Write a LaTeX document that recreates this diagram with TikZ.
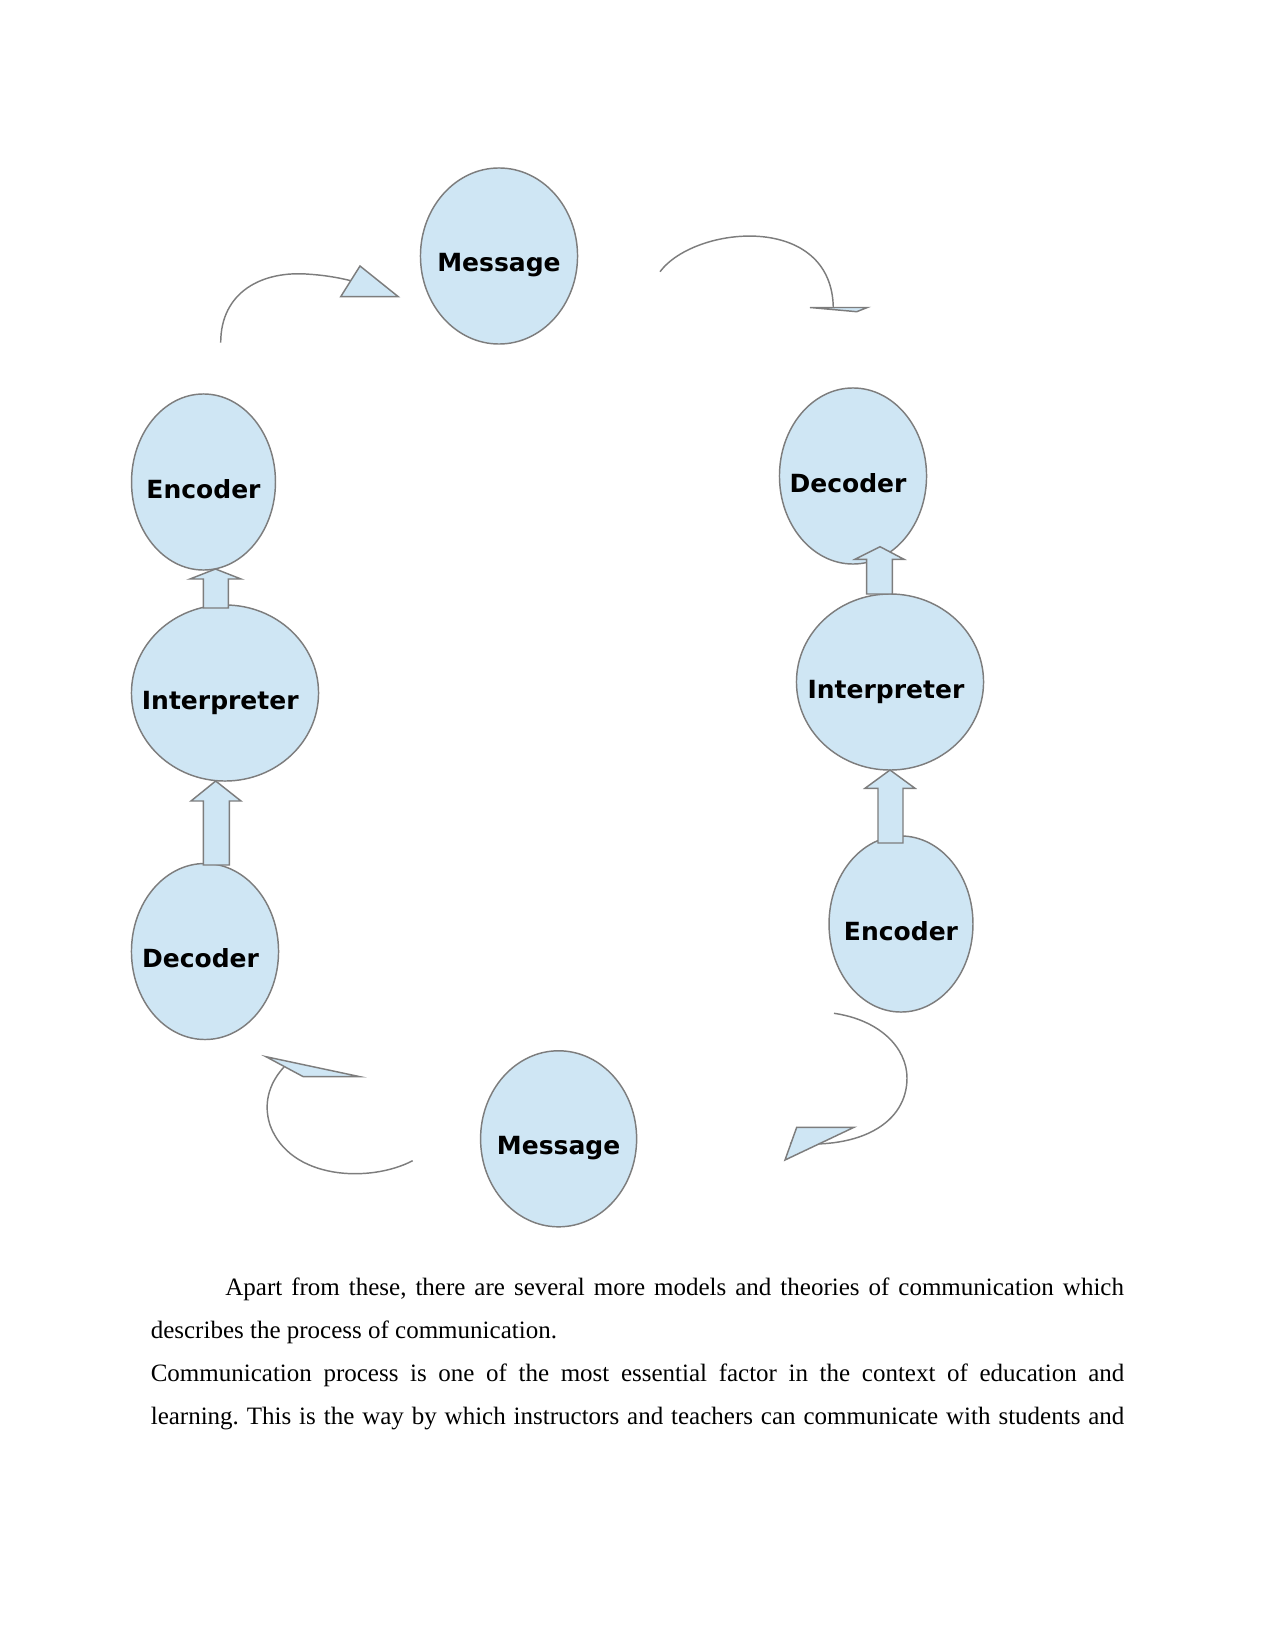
\documentclass[tikz,border=0pt]{standalone}
\usepackage{fontspec}
\usetikzlibrary{shapes.geometric}
\setmainfont{Liberation Serif}
\newfontfamily\labfont{DejaVu Sans}
\definecolor{ellfill}{RGB}{207,230,244}
\definecolor{ellline}{RGB}{125,125,125}
\frenchspacing
\begin{document}
\begin{tikzpicture}[x=0.48pt,y=-0.48pt,
  ell/.style={ellipse,draw=ellline,fill=ellfill,line width=0.7pt,inner sep=0pt,minimum height=84.5pt},
  lbl/.style={font=\labfont\bfseries\fontsize{12}{14}\selectfont,inner sep=0pt,anchor=base},
  blockarrow/.style={draw=ellline,fill=ellfill,line width=0.7pt,line join=miter},
  curve/.style={draw=ellline,line width=0.7pt},
  tri/.style={draw=ellline,fill=ellfill,line width=0.7pt,line join=miter},
  body/.style={anchor=base west,inner sep=0pt,font=\fontsize{12}{14}\selectfont}]
\useasboundingbox (0,0) rectangle (1275,1650);
% ellipses
\node[ell,minimum width=75.4pt] (msgT) at (499,256) {};
\node[ell,minimum width=69.1pt] (encL) at (203.5,482) {};
\node[ell,minimum width=89.8pt] (intL) at (225,693) {};
\node[ell,minimum width=70.6pt] (decL) at (205,951.5) {};
\node[ell,minimum width=70.6pt] (decR) at (853,476) {};
\node[ell,minimum width=89.8pt] (intR) at (890,682) {};
\node[ell,minimum width=69.1pt] (encR) at (901,924) {};
\node[ell,minimum width=74.9pt] (msgB) at (558.6,1138.8) {};
% labels
\node[lbl] (tmsgT) at ([shift={(0,16)}]msgT.center) {Message};
\node[lbl] (tencL) at ([shift={(0,16)}]encL.center) {Encoder};
\node[lbl] (tintL) at ([shift={(-4.7,16)}]intL.center) {Interpreter};
\node[lbl] (tdecL) at ([shift={(-4.5,16)}]decL.center) {Decoder};
\node[lbl] (tdecR) at ([shift={(-5,16)}]decR.center) {Decoder};
\node[lbl] (tintR) at ([shift={(-4,16)}]intR.center) {Interpreter};
\node[lbl] (tencR) at ([shift={(0,16)}]encR.center) {Encoder};
\node[lbl] (tmsgB) at ([shift={(0,16)}]msgB.center) {Message};
% block arrows
\path[blockarrow] (203.3,608) -- (203.3,579) -- (190,579) -- (215.5,569) -- (241,579) -- (228.3,579) -- (228.3,608) -- cycle;
\path[blockarrow] (203.3,865) -- (203.3,801) -- (191,801) -- (215.7,781) -- (241,801) -- (229.3,801) -- (229.3,865) -- cycle;
\path[blockarrow] (866.7,594) -- (866.7,559.3) -- (855,559.3) -- (880,546.7) -- (904,559.3) -- (892.3,559.3) -- (892.3,594) -- cycle;
\path[blockarrow] (878,843) -- (878,788.3) -- (865,788.3) -- (890,770) -- (915,788.3) -- (903,788.3) -- (903,843) -- cycle;
% curved arrows
\path[curve] (220.7,342.7) .. controls (220.7,292) and (262,270) .. (310,274.3) .. controls (328,275.5) and (342,278.5) .. (352,281);
\path[tri] (360,266) -- (398.3,296.7) -- (340.7,296.7) -- cycle;
\path[curve] (660,271.7) .. controls (695,225) and (833,212) .. (833.3,309);
\path[tri] (810,307.5) -- (867.3,307.5) -- (856.7,311.7) -- cycle;
\path[curve] (412.7,1160.7) .. controls (370,1183) and (290,1180) .. (270,1125) .. controls (262,1100) and (272,1080) .. (284,1067);
\path[tri] (266,1056.7) -- (360,1076.7) -- (303.3,1076.7) -- cycle;
\path[curve] (834,1013.3) .. controls (880,1020) and (907,1048) .. (907,1078) .. controls (907,1122) and (862,1150) .. (790,1143);
\path[tri] (796.7,1127.3) -- (854,1127.3) -- (785,1160) -- cycle;
% body text
\node[body] (l1) at (225,1295) {\makebox[431.3pt][s]{Apart from these, there are several more models and theories of communication which}};
\node[body] (l2) at (150.4,1338) {describes the process of communication.};
\node[body] (l3) at (150.4,1381) {\makebox[467.3pt][s]{Communication process is one of the most essential factor in the context of education and}};
\node[body] (l4) at (150.4,1424) {\makebox[467.3pt][s]{learning. This is the way by which instructors and teachers can communicate with students and}};
\end{tikzpicture}
\end{document}
